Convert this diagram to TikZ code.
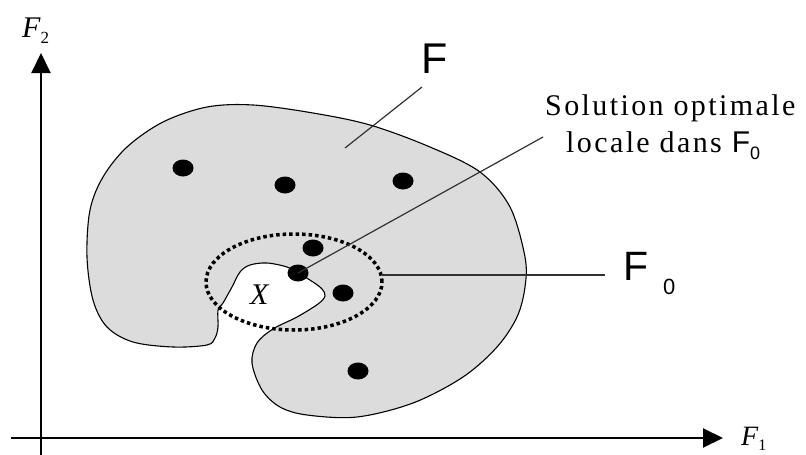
\documentclass[tikz,border=0pt]{standalone}
\usepackage{fontspec}
\setmainfont{Liberation Serif}
\newfontfamily\arialf{Liberation Sans}
\newfontfamily\spacedserif[LetterSpace=8]{Liberation Serif}
\usetikzlibrary{arrows.meta,shapes.geometric}
\definecolor{regiongray}{RGB}{220,220,220}
\definecolor{leadergray}{RGB}{50,50,50}
\tikzset{
  axisline/.style={line width=2pt, -{Triangle[length=20pt,width=19pt]}},
  outline/.style={draw=black, line width=1.1pt, fill=regiongray},
  ptdot/.style={ellipse, fill=black, minimum width=21pt, minimum height=17pt, inner sep=0pt},
  leader/.style={draw=leadergray, line width=1.2pt},
  dotring/.style={draw=black, line width=3.5pt, dash pattern=on 3.5pt off 3pt},
  txt/.style={inner sep=0pt, anchor=base west}
}
\begin{document}
\begin{tikzpicture}[x=1pt,y=-1pt]
\useasboundingbox (0,0) rectangle (806,455);
% axes
\coordinate (ybot) at (41,455);
\coordinate (ytop) at (41,53);
\coordinate (xleft) at (11,438);
\coordinate (xright) at (723,438);
\draw[axisline] (ybot) -- (ytop);
\draw[axisline] (xleft) -- (xright);
% region F
\draw[outline] plot[smooth cycle, tension=0.55] coordinates {
 (207,107) (253,105) (313,113) (370,125) (430,147) (480,172) (510,207)
 (525,257) (525,287) (517,317) (497,347) (463,377) (413,403) (357,417)
 (307,415) (280,407) (262,390) (252,363) (257,343) (273,329) (297,317)
 (318,304) (325,296) (322,289) (313,282) (300,274) (287,267) (267,263)
 (250,265) (240,272) (232,287) (223,303) (218,310) (218,327) (215,338)
 (207,345) (173,347) (133,342) (107,327) (93,300) (87,257) (90,210)
 (103,177) (127,147) (163,122)};
% dotted ring F0
\draw[dotring] (294,282) ellipse [x radius=88pt, y radius=48pt];
\coordinate (ringE) at (382,275);
% dots
\node[ptdot] (d1) at (183,168) {};
\node[ptdot] (d2) at (285,185) {};
\node[ptdot] (d3) at (403,181) {};
\node[ptdot] (d4) at (313,248) {};
\node[ptdot] (d5) at (298,273) {};
\node[ptdot] (d6) at (343,293) {};
\node[ptdot] (d7) at (358,371) {};
% labels
\node[txt] (lblF) at (421,73) {\arialf\fontsize{43}{43}\selectfont F};
\node[txt] (lblF0) at (623,280) {\arialf\fontsize{41}{41}\selectfont F};
\node[txt] (lblF0s) at (663,294) {\arialf\fontsize{22}{22}\selectfont 0};
\node[txt] (sol1) at (545,115) {\spacedserif\fontsize{30}{30}\selectfont Solution optimale};
\node[txt] (sol2) at (566,152) {\spacedserif\fontsize{30}{30}\selectfont locale dans {\arialf F}\raisebox{-7pt}{\arialf\fontsize{18}{18}\selectfont 0}};
\node[txt] (lblX) at (250,304) {\fontsize{30}{30}\selectfont\itshape X};
\node[txt] (lblF2) at (22,37) {\fontsize{30}{30}\selectfont\itshape F\raisebox{-6pt}{\upshape\fontsize{17}{17}\selectfont 2}};
\node[txt] (lblF1) at (741,445) {\fontsize{28}{28}\selectfont\itshape F\raisebox{-5pt}{\upshape\fontsize{16}{16}\selectfont 1}};
% leaders
\coordinate (Fpt) at (345,148);
\coordinate (Fend) at (422,87);
\coordinate (solend) at (543,137);
\coordinate (F0end) at (605,275);
\draw[leader] (Fpt) -- (Fend);
\draw[leader] (d5.center) -- (solend);
\draw[leader] (ringE) -- (F0end);
\end{tikzpicture}
\end{document}
